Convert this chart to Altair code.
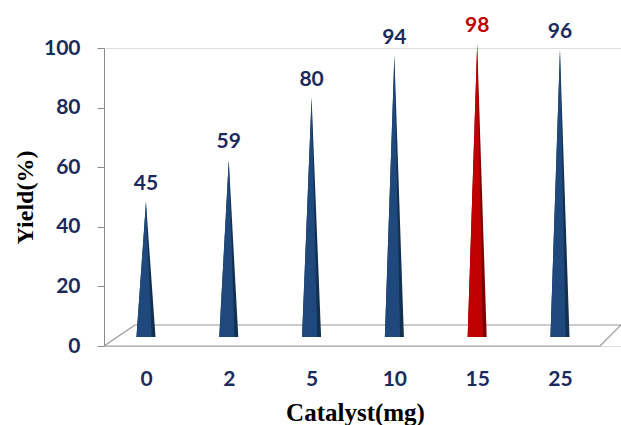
import altair as alt
import pandas as pd

categories = ["0", "2", "5", "10", "15", "25"]
yields = [45, 59, 80, 94, 98, 96]
highlight = "15"

NAVY = "#1F497D"
NAVY_DARK = "#12304F"
RED = "#C00000"
RED_DARK = "#7A0000"
TEXT_NAVY = "#1B2A5C"

HW = 0.115     # half-width of a cone base, in category units
FACE = 0.6     # share of the right half that is the lit face
BASE = 3.0     # cone base height above the floor front edge
LIFT = 3.3     # 3-D back-plane lift of the peak

rows = []
for i, (c, v) in enumerate(zip(categories, yields)):
    top = v + LIFT
    for part, pts in (("side", [(-HW, BASE), (0, top), (HW, BASE)]),
                      ("face", [(-HW, BASE), (0, top), (HW * FACE, BASE)])):
        for dx, y in pts:
            rows.append({"cat": c, "idx": i, "part": part, "x": i + dx, "y": y, "b": BASE})
cones = pd.DataFrame(rows)

labels = pd.DataFrame({"cat": categories, "idx": list(range(len(categories))), "v": yields})
labels["ytop"] = labels["v"] + LIFT

XMIN, XMAX = -0.507, 5.737
DEPTH = 7.05
SKEW_L, SKEW_R = 0.374, 0.254
floor = pd.DataFrame({
    "x":  [XMIN, XMIN + SKEW_L, XMIN, XMAX - SKEW_R],
    "y":  [0, DEPTH, 0, 0],
    "x2": [XMAX - SKEW_R, XMAX, XMIN + SKEW_L, XMAX],
    "y2": [0, DEPTH, DEPTH, DEPTH],
})

xscale = alt.Scale(domain=[XMIN, XMAX], nice=False, zero=False)
yscale = alt.Scale(domain=[0, 100], nice=False)

label_expr = "[" + ",".join('"%s"' % c for c in categories) + "][datum.value]"

xaxis = alt.Axis(values=list(range(len(categories))), labelExpr=label_expr,
                 domain=False, ticks=False, grid=False, labelPadding=22,
                 labelFont="Lato", labelFontSize=21, labelFontWeight="bold",
                 labelColor=TEXT_NAVY, title="Catalyst(mg)",
                 titleFont="Liberation Serif", titleFontSize=25, titleFontWeight="bold",
                 titleColor="#000000", titleX=251, titleY=74,
                 titleBaseline="alphabetic", titleAlign="center")
yaxis = alt.Axis(values=[0, 20, 40, 60, 80, 100], grid=False,
                 domainColor="#8a8a8a", tickColor="#8a8a8a", tickSize=7,
                 labelPadding=17, labelFont="Lato", labelFontSize=21,
                 labelFontWeight="bold", labelColor=TEXT_NAVY,
                 title="Yield(%)", titleFont="Liberation Serif", titleFontSize=24,
                 titleFontWeight="bold", titleColor="#000000", titleAngle=-90,
                 titleX=-79, titleY=149, titleAlign="center", titleBaseline="middle")

floor_layer = alt.Chart(floor).mark_rule(color="#9a9a9a", strokeWidth=1.2).encode(
    x=alt.X("x:Q", scale=xscale, axis=xaxis),
    y=alt.Y("y:Q", scale=yscale, axis=yaxis),
    x2="x2:Q", y2="y2:Q")

side = alt.Chart(cones).transform_filter(alt.datum.part == "side").mark_area(
    interpolate="linear").encode(
    x=alt.X("x:Q", scale=xscale),
    y=alt.Y("y:Q", scale=yscale),
    y2="b:Q",
    detail="cat:N",
    color=alt.condition(alt.datum.cat == highlight, alt.value(RED_DARK), alt.value(NAVY_DARK)))

face = alt.Chart(cones).transform_filter(alt.datum.part == "face").mark_area(
    interpolate="linear").encode(
    x=alt.X("x:Q", scale=xscale),
    y=alt.Y("y:Q", scale=yscale),
    y2="b:Q",
    detail="cat:N",
    color=alt.condition(alt.datum.cat == highlight, alt.value(RED), alt.value(NAVY)))

text = alt.Chart(labels).mark_text(font="Lato", fontSize=21, fontWeight="bold",
                                   dy=-18, baseline="middle").encode(
    x=alt.X("idx:Q", scale=xscale),
    y=alt.Y("ytop:Q", scale=yscale),
    text="v:Q",
    color=alt.condition(alt.datum.cat == highlight, alt.value(RED), alt.value(TEXT_NAVY)))

chart = alt.layer(floor_layer, side, face, text).properties(
    width=517, height=298,
    autosize=alt.AutoSizeParams(type="none"),
    padding={"left": 104, "top": 48, "right": 0, "bottom": 79},
).configure_view(stroke=None).configure(background="white")

chart.save("out.html", embed_options={"renderer": "svg", "actions": False})
